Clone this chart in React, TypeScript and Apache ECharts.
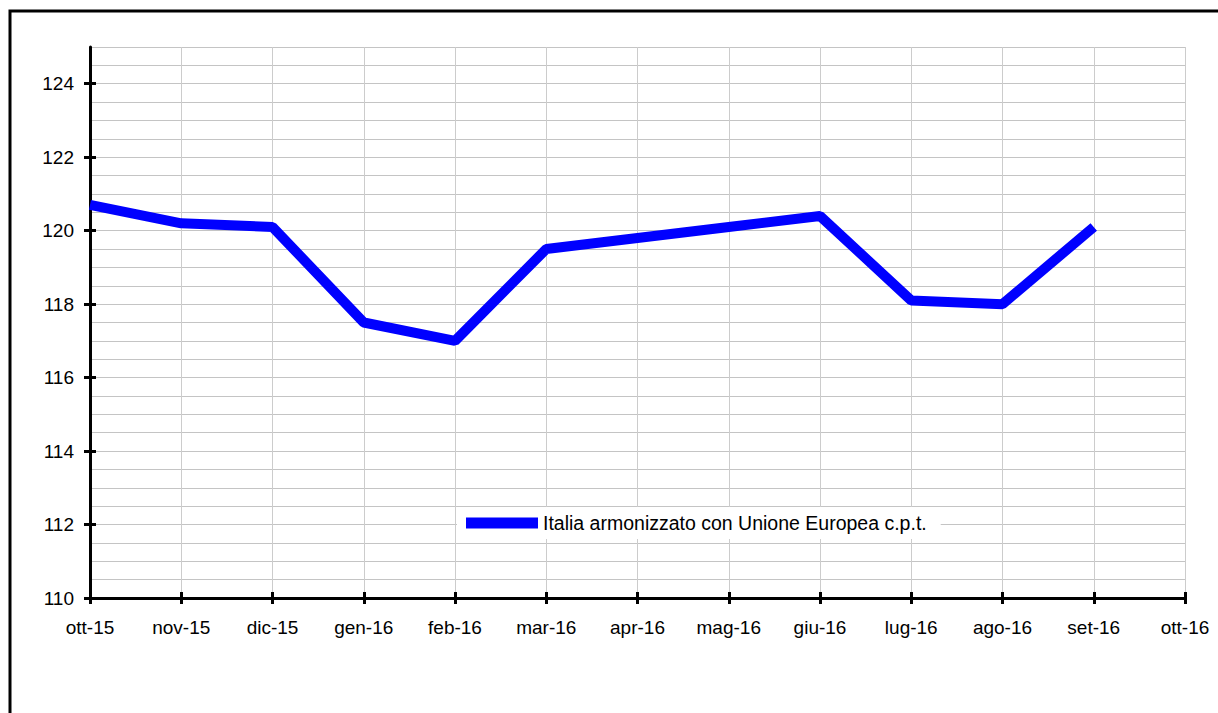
import React, { useEffect, useRef } from "react";
import * as echarts from "echarts";

const categories = ["ott-15", "nov-15", "dic-15", "gen-16", "feb-16", "mar-16", "apr-16", "mag-16", "giu-16", "lug-16", "ago-16", "set-16", "ott-16"];
const values: (number | null)[] = [120.7, 120.2, 120.1, 117.5, 117.0, 119.5, 119.8, 120.1, 120.4, 118.1, 118.0, 120.1, null];
const seriesName = "Italia armonizzato con Unione Europea c.p.t.";
const yMin = 110;
const yMax = 125;
const yTickLabels = [110, 112, 114, 116, 118, 120, 122, 124];

export default function App() {
  const ref = useRef<HTMLDivElement>(null);
  useEffect(() => {
    if (!ref.current) return;
    const chart = echarts.init(ref.current, null, { renderer: "svg" });
    const font = "'Liberation Sans', Arial, sans-serif";
    const tickStyle = { color: "#000", width: 3 };
    chart.setOption({
      animation: false,
      backgroundColor: "#ffffff",
      grid: { left: 90, right: 33, top: 47, bottom: 115, containLabel: false },
      legend: {
        show: true,
        left: 457,
        top: 507,
        backgroundColor: "#ffffff",
        padding: [6, 14, 6, 9],
        itemWidth: 72,
        itemHeight: 11,
        itemGap: 5,
        icon: "rect",
        itemStyle: { color: "#0000ff", borderWidth: 0 },
        lineStyle: { width: 0 },
        data: [{ name: seriesName, icon: "rect" }],
        textStyle: { fontFamily: font, fontSize: 19.5, color: "#000", padding: [3, 0, 0, 0] },
        z: 20,
      },
      xAxis: [
        {
          type: "category",
          data: categories,
          boundaryGap: false,
          axisLine: { show: true, lineStyle: { color: "#000", width: 3 } },
          axisTick: { show: true, length: 6, lineStyle: tickStyle },
          axisLabel: { fontFamily: font, fontSize: 19, color: "#000", margin: 20, interval: 0 },
          splitLine: { show: true, lineStyle: { color: "#cccccc", width: 1 } },
        },
        {
          type: "category",
          data: categories,
          boundaryGap: false,
          position: "bottom",
          axisLine: { show: false },
          axisTick: { show: true, inside: true, length: 6, lineStyle: tickStyle },
          axisLabel: { show: false },
          splitLine: { show: false },
        },
      ],
      yAxis: [
        {
          type: "value",
          min: yMin,
          max: yMax,
          interval: 2,
          axisLine: { show: true, onZero: false, lineStyle: { color: "#000", width: 3 } },
          axisTick: { show: true, length: 6, lineStyle: tickStyle, customValues: yTickLabels },
          axisLabel: { fontFamily: font, fontSize: 19, color: "#000", margin: 16, customValues: yTickLabels },
          splitLine: { show: false },
        },
        {
          type: "value",
          min: yMin,
          max: yMax,
          interval: 0.5,
          position: "left",
          axisLine: { show: false },
          axisTick: { show: false },
          axisLabel: { show: false },
          splitLine: { show: true, lineStyle: { color: "#c4c4c4", width: 1 } },
          z: 0,
        },
        {
          type: "value",
          min: yMin,
          max: yMax,
          interval: 2,
          position: "left",
          axisLine: { show: false },
          axisTick: { show: true, inside: true, length: 6, lineStyle: tickStyle, customValues: yTickLabels },
          axisLabel: { show: false },
          splitLine: { show: false },
        },
      ],
      graphic: [
        {
          type: "rect",
          shape: { x: 10, y: 11, width: 1230, height: 730 },
          style: { fill: "none", stroke: "#000", lineWidth: 3 },
          z: 100,
        },
      ],
      series: [
        {
          name: seriesName,
          type: "line",
          xAxisIndex: 0,
          yAxisIndex: 0,
          data: values,
          symbol: "none",
          lineStyle: { color: "#0000ff", width: 10 },
          itemStyle: { color: "#0000ff" },
          z: 10,
        },
      ],
    });
    return () => chart.dispose();
  }, []);
  return <div ref={ref} style={{ position: "fixed", left: 0, top: 0, width: 1218, height: 713 }} />;
}
